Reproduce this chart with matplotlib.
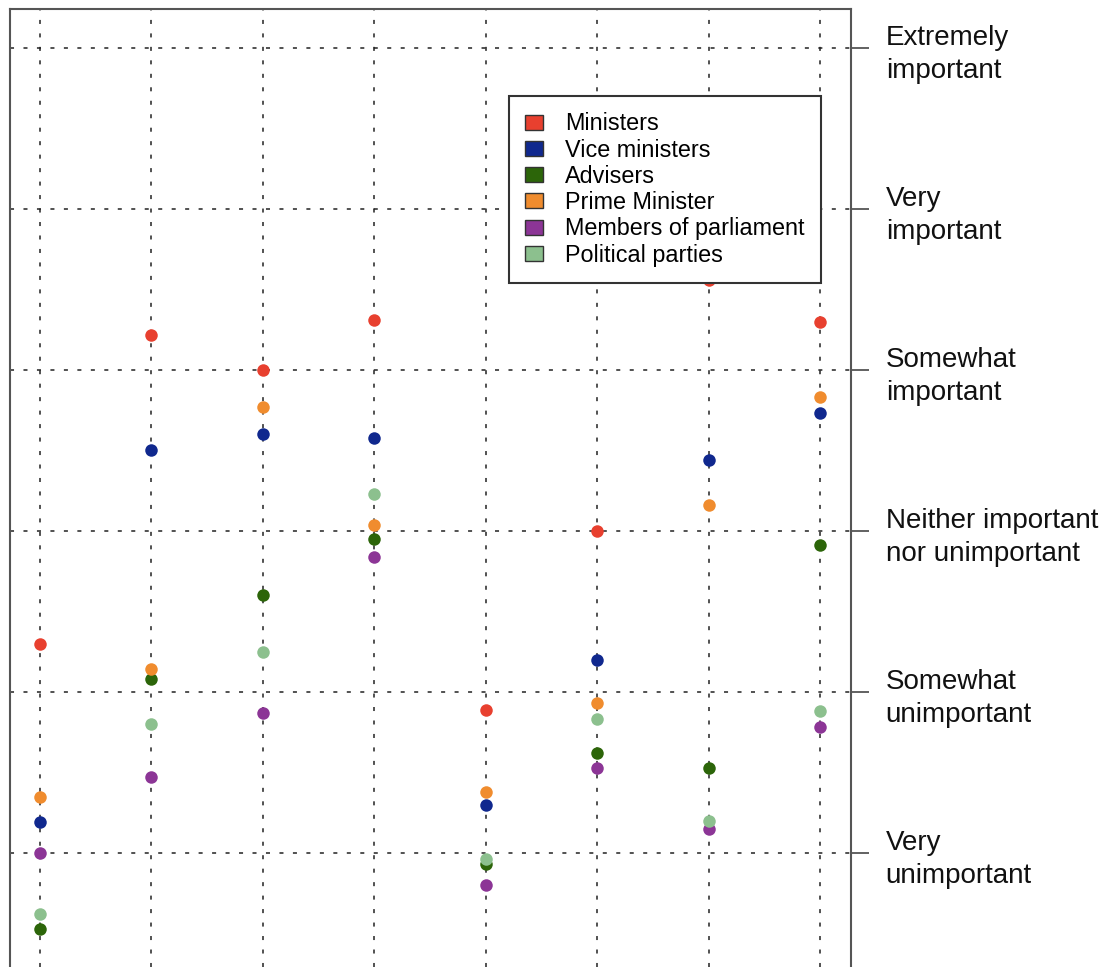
import matplotlib
matplotlib.use("Agg")
import matplotlib.pyplot as plt
from matplotlib.patches import Patch

plt.rcParams['font.family'] = ['Liberation Sans', 'DejaVu Sans']
plt.rcParams['lines.scale_dashes'] = False

# 8 items on the x axis (no labels shown), mean rating per group
positions = [1, 2, 3, 4, 5, 6, 7, 8]

ministers      = [2.30, 4.22, 4.00, 4.31, 1.89, 3.00, 4.56, 4.30]
vice_ministers = [1.19, 3.50, 3.60, 3.58, 1.30, 2.20, 3.44, 3.73]
advisers       = [0.53, 2.08, 2.60, 2.95, 0.93, 1.62, 1.53, 2.91]
prime_minister = [1.35, 2.14, 3.77, 3.04, 1.38, 1.93, 3.16, 3.83]
mps            = [1.00, 1.47, 1.87, 2.84, 0.80, 1.53, 1.15, 1.78]
parties        = [0.62, 1.80, 2.25, 3.23, 0.96, 1.83, 1.20, 1.88]

series_names = ['Ministers', 'Vice ministers', 'Advisers', 'Prime Minister',
                'Members of parliament', 'Political parties']
series_colors = ['#E8402F', '#10288E', '#2C6509', '#F08C2E', '#8C3596', '#8CC08E']

scale_levels = [1, 2, 3, 4, 5, 6]
scale_labels = ['Very\nunimportant', 'Somewhat\nunimportant',
                'Neither important\nnor unimportant', 'Somewhat\nimportant',
                'Very\nimportant', 'Extremely\nimportant']

fig = plt.figure(figsize=(11.12, 9.67), dpi=100)
ax = fig.add_axes([10 / 1112, 0.0, 841 / 1112, 1 - 9 / 967])

all_series = [ministers, vice_ministers, advisers, prime_minister, mps, parties]
for vals, col in zip(all_series, series_colors):
    ax.plot(positions, vals, linestyle='none', marker='o', ms=9,
            color=col, markeredgewidth=0, zorder=3)

ax.set_xlim(0.731, 8.278)
ax.set_ylim(0.292, 6.242)

ax.set_xticks(positions)
ax.tick_params(axis='x', length=0, labelbottom=False)

ax.yaxis.tick_right()
ax.set_yticks(scale_levels)
ax.set_yticklabels(scale_labels, linespacing=1.35)
ax.tick_params(axis='y', direction='out', length=13, width=1.3, pad=12,
               labelsize=20, color='#555555', labelcolor='#111111')

ax.set_axisbelow(True)
ax.grid(True, color='#222222', linewidth=1.1, linestyle=(0, (2.9, 6.8)))

for side in ['left', 'right', 'top']:
    ax.spines[side].set_linewidth(1.5)
    ax.spines[side].set_color('#555555')
ax.spines['bottom'].set_visible(False)

handles = [Patch(facecolor=c, edgecolor='#333333', linewidth=1.0) for c in series_colors]
leg = fig.legend(handles, series_names, loc='upper left',
                 bbox_to_anchor=(509 / 1112, 1 - 96 / 967), borderaxespad=0,
                 fontsize=16.8, frameon=True, fancybox=False, framealpha=1,
                 edgecolor='#333333', labelspacing=0.14, handlelength=0.75,
                 handleheight=0.6, handletextpad=0.95, borderpad=0.7)
leg.get_frame().set_linewidth(1.5)
leg.set_zorder(10)

fig.savefig('out.png', dpi=100)
